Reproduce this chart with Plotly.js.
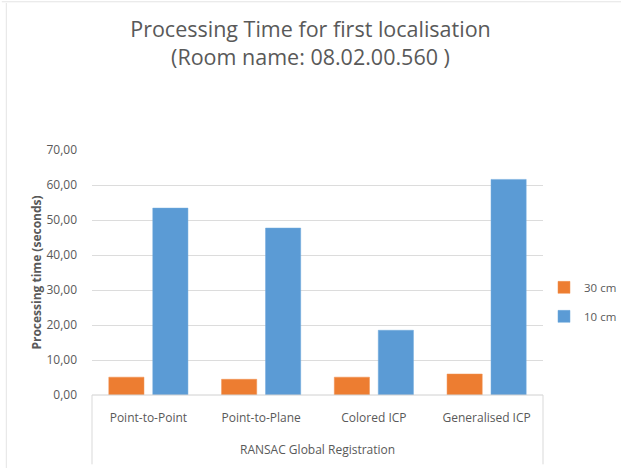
<!DOCTYPE html>
<html><head><meta charset="utf-8">
<script src="https://cdn.plot.ly/plotly-3.0.1.min.js"></script>
<style>html,body{margin:0;padding:0;background:#fff;}#chart{width:621px;height:468px;}</style>
</head><body><div id="chart"></div>
<script>
var categories = ["Point-to-Point", "Point-to-Plane", "Colored ICP", "Generalised ICP"];
var series30 = [5.1, 4.5, 5.1, 6.0];
var series10 = [53.4, 47.7, 18.5, 61.6];
var seriesNames = ["30 cm", "10 cm"];
var groupLabel = "RANSAC Global Registration";
var yTicks = [0, 10, 20, 30, 40, 50, 60, 70];

var fontFam = "Open Sans, Liberation Sans, sans-serif";
var grey = "#595959";

var traces = [
  {type: "bar", x: categories, y: series30, name: seriesNames[0], legendgroup: "a",
   marker: {color: "#ED7D31", line: {color: "#F09050", width: 0.5}}, hoverinfo: "skip"},
  {type: "bar", x: categories, y: series10, name: seriesNames[1], legendgroup: "b",
   marker: {color: "#5B9BD5", line: {color: "#6FA8DC", width: 0.5}}, hoverinfo: "skip"}
];

var layout = {
  width: 621, height: 468,
  paper_bgcolor: "#fff", plot_bgcolor: "#fff",
  margin: {l: 92, r: 78, t: 150, b: 73},
  separators: ",.",
  font: {family: fontFam, color: grey, size: 12},
  title: {text: "Processing Time for first localisation<br>(Room name: 08.02.00.560 )",
          font: {family: fontFam, size: 21.5, color: grey}, x: 0.5, xanchor: "center",
          xref: "container", yref: "container", y: 0.92, yanchor: "middle"},
  barmode: "group", bargap: 0.22, bargroupgap: 0.2,
  xaxis: {type: "category", showgrid: false, showline: false, ticks: "",
          tickfont: {size: 12, color: grey}, ticklabelstandoff: 14, fixedrange: true},
  yaxis: {range: [0, 70], tickvals: yTicks, tickformat: ".2f", showgrid: true,
          gridcolor: "#dcdcdc", gridwidth: 1, zeroline: false, showline: false,
          ticks: "", ticklabelstandoff: 14, tickfont: {size: 12, color: grey},
          title: {text: "<b>Processing time (seconds)</b>", font: {size: 12, color: grey}, standoff: 2},
          fixedrange: true},
  legend: {xref: "container", yref: "container", x: 0.876, xanchor: "left",
           y: 0.355, yanchor: "middle", orientation: "v",
           font: {size: 11.5, color: grey}, tracegroupgap: 10, itemwidth: 30,
           bgcolor: "rgba(0,0,0,0)"},
  annotations: [
    {text: groupLabel, xref: "paper", yref: "paper", x: 0.5, y: 0, yshift: -54,
     showarrow: false, font: {size: 12, color: grey}, xanchor: "center", yanchor: "middle"}
  ],
  shapes: [
    {type: "line", xref: "paper", yref: "paper", x0: 0, x1: 1, y0: 0, y1: 0,
     line: {color: "#d0d0d0", width: 1}},
    {type: "line", xref: "paper", yref: "paper", x0: 0, x1: 0, y0: 0, y1: -0.283,
     line: {color: "#d9d9d9", width: 1}},
    {type: "line", xref: "paper", yref: "paper", x0: 1, x1: 1, y0: 0, y1: -0.283,
     line: {color: "#d9d9d9", width: 1}},
    {type: "line", xref: "paper", yref: "paper", x0: -0.19, x1: -0.19, y0: -0.32, y1: 1.6,
     line: {color: "#e4e4e4", width: 1}},
    {type: "line", xref: "paper", yref: "paper", x0: -0.2, x1: 1.2, y0: 1.605, y1: 1.605,
     line: {color: "#e4e4e4", width: 1}}
  ]
};

Plotly.newPlot("chart", traces, layout, {displayModeBar: false, staticPlot: true});
</script>
</body></html>
